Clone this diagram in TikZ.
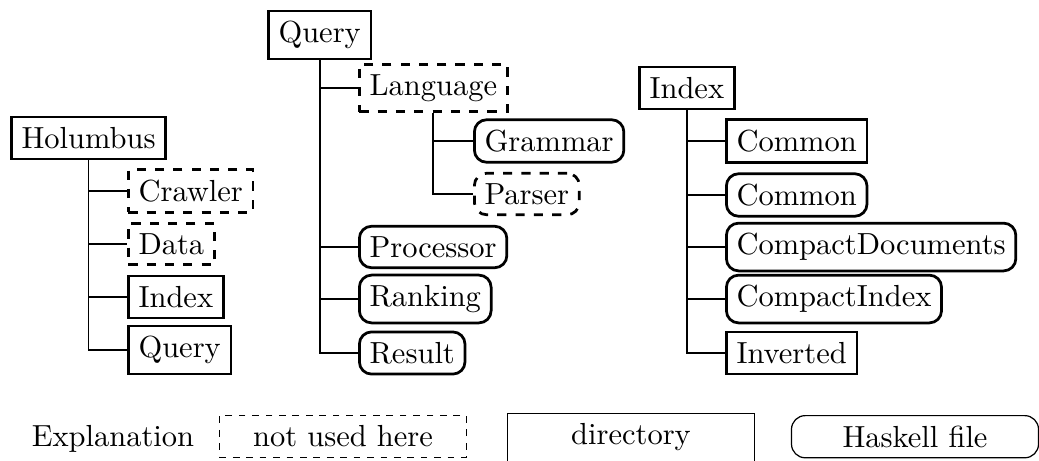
\documentclass[tikz,border=0pt]{standalone}
\begin{document}
\begin{tikzpicture}[x=0.3279pt,y=-0.3279pt,
  dirbox/.style={draw,line width=0.9pt,inner sep=3.333pt,anchor=west},
  hsfile/.style={dirbox,rounded corners=4pt},
  unused/.style={dirbox,dashed},
  unusedfile/.style={dirbox,dashed,rounded corners=4pt},
  conn/.style={line width=0.6pt},
  legbox/.style={draw,line width=0.4pt,inner sep=3.333pt,minimum width=81pt,anchor=north}]
\useasboundingbox (0,0) rectangle (1039,460);
% Holumbus tree
\node[dirbox] (hol) at (10,138) {Holumbus};
\node[unused] (hcrawler) at (127,191) {Crawler};
\node[unused] (hdata) at (127,244) {Data};
\node[dirbox] (hindex) at (127,297) {Index};
\node[dirbox] (hquery) at (127,350) {Query};
\foreach \c in {hcrawler,hdata,hindex,hquery}
  \draw[conn] (hol.south) |- (\c.west);
% Query tree
\node[dirbox] (qry) at (267,35) {Query};
\node[unused] (qlang) at (358,88) {Language};
\node[hsfile] (qgram) at (473,141) {Grammar};
\node[unusedfile] (qpars) at (473,194) {Parser};
\node[hsfile] (qproc) at (358,247) {Processor};
\node[hsfile] (qrank) at (358,299) {Ranking};
\node[hsfile] (qres) at (358,353) {Result};
\foreach \c in {qlang,qproc,qrank,qres}
  \draw[conn] (qry.south) |- (\c.west);
\foreach \c in {qgram,qpars}
  \draw[conn] (qlang.south) |- (\c.west);
% Index tree
\node[dirbox] (idx) at (638,88) {Index};
\node[dirbox] (icommond) at (725,141) {Common};
\node[hsfile] (icommonf) at (725,195) {Common};
\node[hsfile] (icdocs) at (725,247) {CompactDocuments};
\node[hsfile] (icidx) at (725,299) {CompactIndex};
\node[dirbox] (iinv) at (725,353) {Inverted};
\foreach \c in {icommond,icommonf,icdocs,icidx,iinv}
  \draw[conn] (idx.south) |- (\c.west);
% Legend
\node[legbox,dash pattern=on 2.2pt off 2.2pt] (lunused) at (343,415) {not used here};
\node[legbox] (ldir) at (631,413) {directory};
\node[legbox,rounded corners=4.5pt] (lhs) at (915,415) {Haskell file};
\coordinate (exx) at (113,0);
\node[anchor=base,inner sep=0pt] (expl) at (exx |- lunused.base) {Explanation};
\end{tikzpicture}
\end{document}
